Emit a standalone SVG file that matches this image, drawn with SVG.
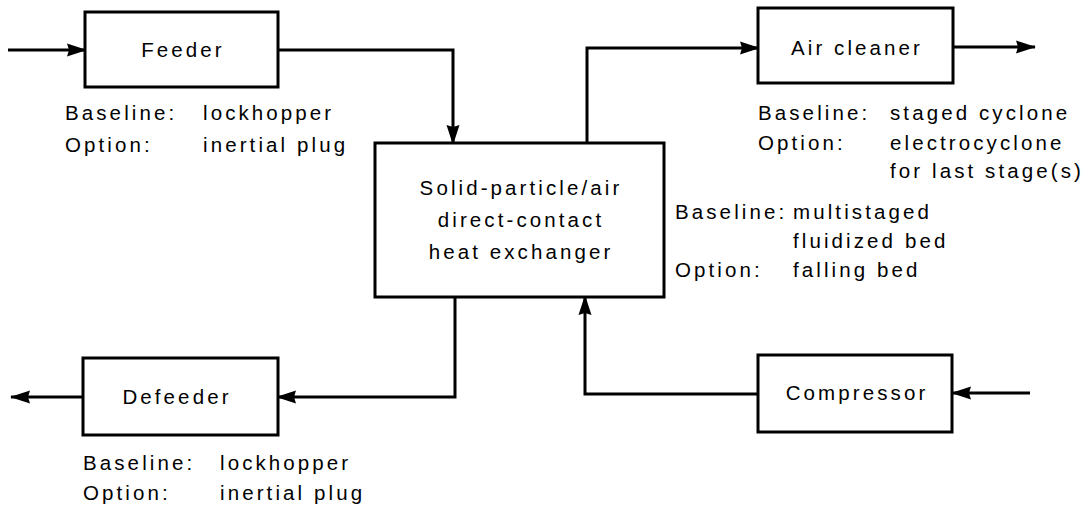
<svg xmlns="http://www.w3.org/2000/svg" width="1091" height="506" viewBox="0 0 1091 506">
<style>
.box{fill:#fff;stroke:#000;stroke-width:3}
.t{font-family:"Liberation Sans",Arial,sans-serif;font-size:20.5px;letter-spacing:3.1px;fill:#000}
.m{text-anchor:middle}
.c{fill:none;stroke:#000;stroke-width:3;stroke-linejoin:miter}
</style>
<defs>
<marker id="ah" markerUnits="userSpaceOnUse" markerWidth="20" markerHeight="16" refX="19" refY="8" orient="auto" viewBox="0 0 20 16">
<path d="M0,1.5 L20,8 L0,14.5 L2,8 z" fill="#000"/>
</marker>
</defs>
<rect width="1091" height="506" fill="#fff"/>
<g id="connectors">
<path class="c" d="M8,50 H86" marker-end="url(#ah)"/>
<path class="c" d="M278,50 H453 V144" marker-end="url(#ah)"/>
<path class="c" d="M587,143 V48 H759" marker-end="url(#ah)"/>
<path class="c" d="M953,47 H1035" marker-end="url(#ah)"/>
<path class="c" d="M1030,393 H952" marker-end="url(#ah)"/>
<path class="c" d="M758,394 H585 V296" marker-end="url(#ah)"/>
<path class="c" d="M455,297 V397 H277" marker-end="url(#ah)"/>
<path class="c" d="M83,397 H11" marker-end="url(#ah)"/>
</g>
<g id="feeder">
<rect class="box" x="85" y="12" width="193" height="75"/>
<text class="t m" x="183" y="57">Feeder</text>
<text class="t" x="65" y="120">Baseline:</text>
<text class="t" x="203" y="120">lockhopper</text>
<text class="t" x="65" y="152">Option:</text>
<text class="t" x="203" y="152">inertial plug</text>
</g>
<g id="heat-exchanger">
<rect class="box" x="375" y="143" width="289" height="154"/>
<text class="t m" x="521" y="195">Solid-particle/air</text>
<text class="t m" x="521" y="227">direct-contact</text>
<text class="t m" x="521" y="259">heat exchanger</text>
<text class="t" x="675" y="219">Baseline:</text>
<text class="t" x="793" y="219">multistaged</text>
<text class="t" x="793" y="248">fluidized bed</text>
<text class="t" x="675" y="277">Option:</text>
<text class="t" x="793" y="277">falling bed</text>
</g>
<g id="air-cleaner">
<rect class="box" x="758" y="8" width="195" height="75"/>
<text class="t m" x="857" y="55">Air cleaner</text>
<text class="t" x="758" y="120">Baseline:</text>
<text class="t" x="890" y="120">staged cyclone</text>
<text class="t" x="758" y="150">Option:</text>
<text class="t" x="890" y="150">electrocyclone</text>
<text class="t" x="890" y="178">for last stage(s)</text>
</g>
<g id="defeeder">
<rect class="box" x="83" y="358" width="195" height="77"/>
<text class="t m" x="177" y="404">Defeeder</text>
<text class="t" x="83" y="470">Baseline:</text>
<text class="t" x="220" y="470">lockhopper</text>
<text class="t" x="83" y="500">Option:</text>
<text class="t" x="220" y="500">inertial plug</text>
</g>
<g id="compressor">
<rect class="box" x="758" y="355" width="194" height="77"/>
<text class="t m" x="857" y="400">Compressor</text>
</g>
</svg>
